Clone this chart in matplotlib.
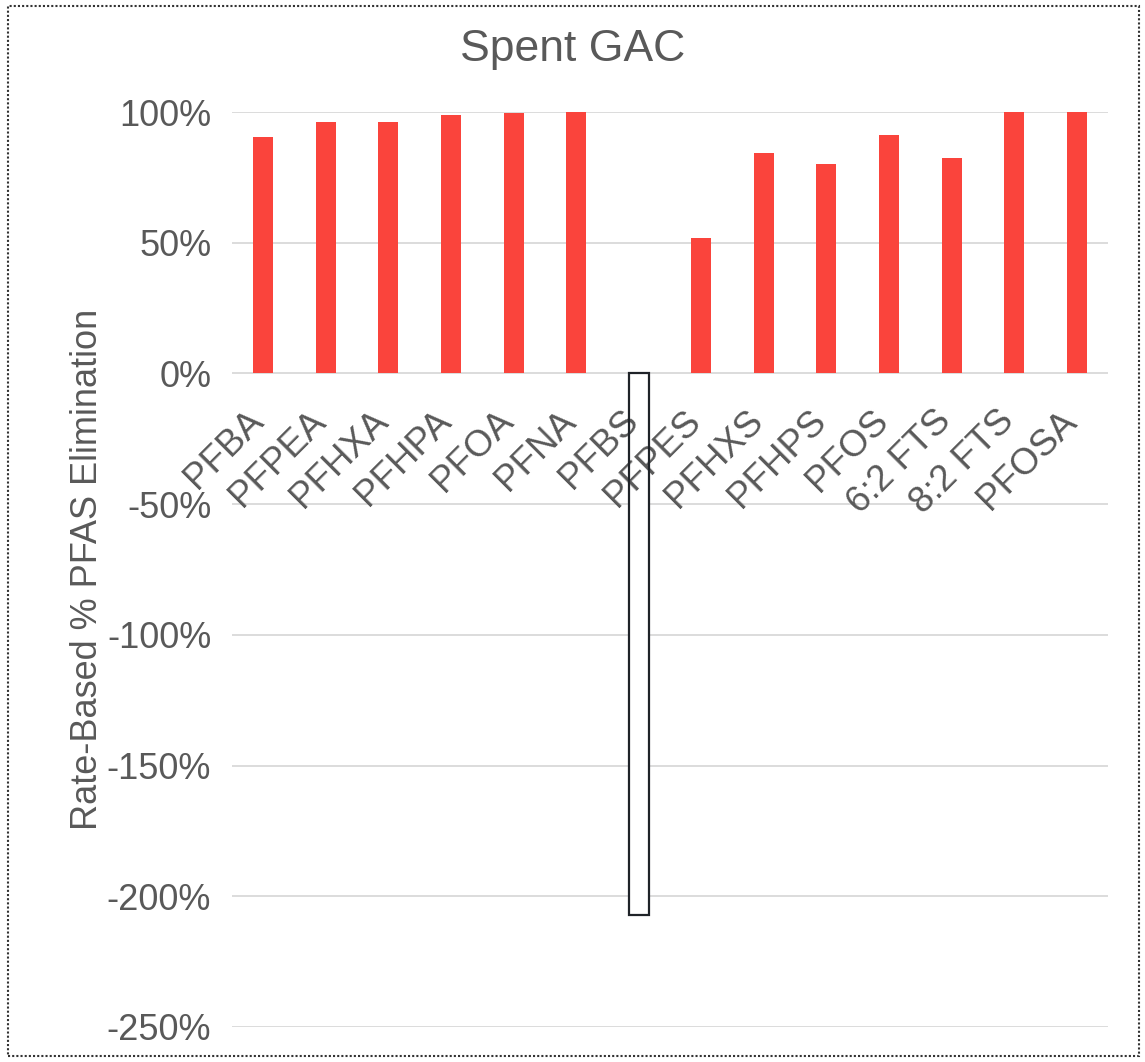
import matplotlib.pyplot as plt
from matplotlib.patches import Rectangle
from matplotlib import transforms

plt.rcParams['font.family'] = ['Liberation Sans', 'DejaVu Sans']

compounds = ['PFBA', 'PFPEA', 'PFHXA', 'PFHPA', 'PFOA', 'PFNA', 'PFBS',
             'PFPES', 'PFHXS', 'PFHPS', 'PFOS', '6:2 FTS', '8:2 FTS', 'PFOSA']
elimination = [0.905, 0.963, 0.963, 0.990, 0.997, 1.0, -2.07,
               0.519, 0.844, 0.802, 0.913, 0.825, 1.0, 1.0]
yticks = [1.0, 0.5, 0.0, -0.5, -1.0, -1.5, -2.0, -2.5]

text_grey = '#595959'
red = '#fa443c'

fig = plt.figure(figsize=(11.45, 10.62), dpi=100)
ax = fig.add_axes([232 / 1145, 35 / 1062, 876 / 1145, (1027 - 112) / 1062])

x = list(range(len(compounds)))
pos_x = [i for i, v in zip(x, elimination) if v >= 0]
pos_v = [v for v in elimination if v >= 0]
neg_x = [i for i, v in zip(x, elimination) if v < 0]
neg_v = [v for v in elimination if v < 0]

ax.bar(pos_x, pos_v, width=0.32, color=red, zorder=2)
# negative bar: white fill under the labels, outline on top
ax.bar(neg_x, neg_v, width=0.32, color='white', zorder=2)
ax.bar(neg_x, neg_v, width=0.32, facecolor='none', edgecolor='#1f2328',
       linewidth=1.6, zorder=4)

ax.set_xlim(-0.5, len(compounds) - 0.5)
ax.set_ylim(-2.5, 1.0)
ax.set_yticks(yticks)
ax.set_yticklabels([f'{int(round(t * 100))}%' for t in yticks])
ax.set_xticks([])
ax.tick_params(axis='y', length=0, pad=15, labelsize=26, labelcolor=text_grey)
ax.grid(axis='y', color='#d9d9d9', linewidth=1.3, zorder=0)
ax.set_axisbelow(True)
for s in ax.spines.values():
    s.set_visible(False)

# category labels next to the 0% line
off = transforms.offset_copy(ax.transData, fig=fig, x=-18, y=-30, units='dots')
for i, name in enumerate(compounds):
    ax.text(i, 0, name, rotation=45, ha='right', va='top',
            rotation_mode='anchor', fontsize=26.5, color=text_grey,
            transform=off, zorder=3)

ax.set_ylabel('Rate-Based % PFAS Elimination', fontsize=26, color=text_grey,
              labelpad=1.5)
fig.text(0.5, 1 - 50 / 1062, 'Spent GAC', ha='center', va='center',
         fontsize=32, color=text_grey)

fig.patches.append(Rectangle((8 / 1145, 6 / 1062), 1131 / 1145, 1050 / 1062,
                             transform=fig.transFigure, fill=False,
                             linestyle=(0, (1, 1)), linewidth=1.5,
                             edgecolor='#333333'))

fig.savefig('out.png', dpi=100)
